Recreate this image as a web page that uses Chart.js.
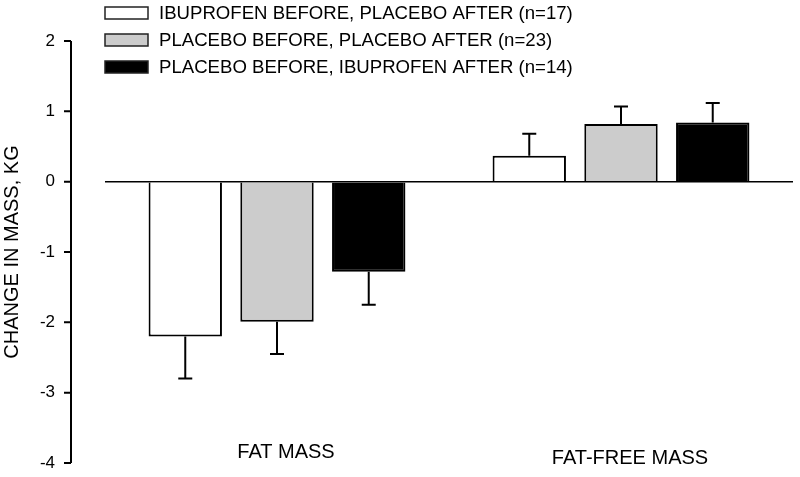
<!DOCTYPE html>
<html lang="en">
<head>
    <meta charset="UTF-8">
    <title>Change in mass</title>
    <script src="https://cdn.jsdelivr.net/npm/chart.js"></script>
    <style>
        body {
            margin: 0;
            background: #fff;
        }
    </style>
</head>
<body>

    <canvas id="grafico" width="800" height="477"></canvas>

    <script>
        const categorias = ['FAT MASS', 'FAT-FREE MASS'];
        const etiquetas = [
            'IBUPROFEN BEFORE, PLACEBO AFTER (n=17)',
            'PLACEBO BEFORE, PLACEBO AFTER (n=23)',
            'PLACEBO BEFORE, IBUPROFEN AFTER (n=14)'
        ];
        const ibuPlacebo = [-2.20, 0.37];
        const ibuPlaceboErr = [0.60, 0.31];
        const placeboPlacebo = [-1.99, 0.82];
        const placeboPlaceboErr = [0.46, 0.25];
        const placeboIbu = [-1.28, 0.84];
        const placeboIbuErr = [0.47, 0.28];
        const yTicks = [2, 1, 0, -1, -2, -3, -4];

        const fuente = "'Liberation Sans', Arial, sans-serif";
        const errores = [ibuPlaceboErr, placeboPlaceboErr, placeboIbuErr];

        // barras de error (solo hacia fuera del cero)
        const barrasError = {
            id: 'barrasError',
            afterDatasetsDraw(chart) {
                const ctx = chart.ctx;
                const y = chart.scales.y;
                ctx.save();
                ctx.strokeStyle = '#000';
                ctx.lineWidth = 2;
                chart.data.datasets.forEach((ds, i) => {
                    chart.getDatasetMeta(i).data.forEach((bar, j) => {
                        const v = ds.data[j];
                        const e = errores[i][j];
                        const fin = y.getPixelForValue(v < 0 ? v - e : v + e);
                        ctx.beginPath();
                        ctx.moveTo(bar.x, bar.y);
                        ctx.lineTo(bar.x, fin);
                        ctx.moveTo(bar.x - 7, fin);
                        ctx.lineTo(bar.x + 7, fin);
                        ctx.stroke();
                    });
                });
                ctx.restore();
            }
        };

        // eje izquierdo separado del area, leyenda y etiquetas de categoria
        const extras = {
            id: 'extras',
            afterDraw(chart) {
                const ctx = chart.ctx;
                const y = chart.scales.y;
                const x = chart.scales.x;
                const ejeX = 71;
                ctx.save();
                ctx.strokeStyle = '#000';
                ctx.lineWidth = 2;
                ctx.beginPath();
                ctx.moveTo(ejeX, y.getPixelForValue(yTicks[0]));
                ctx.lineTo(ejeX, y.getPixelForValue(yTicks[yTicks.length - 1]));
                yTicks.forEach(t => {
                    const py = y.getPixelForValue(t);
                    ctx.moveTo(ejeX - 7, py);
                    ctx.lineTo(ejeX, py);
                });
                ctx.stroke();

                ctx.fillStyle = '#000';
                ctx.font = '20px ' + fuente;
                ctx.textAlign = 'center';
                ctx.textBaseline = 'middle';
                const despl = [-6, 0];
                categorias.forEach((c, i) => {
                    ctx.fillText(c, x.getPixelForValue(i) + 9, 458 + despl[i]);
                });

                ctx.font = '18.6px ' + fuente;
                ctx.textAlign = 'left';
                chart.data.datasets.forEach((ds, i) => {
                    const cy = 13 + i * 27;
                    ctx.fillStyle = ds.backgroundColor;
                    ctx.fillRect(105, cy - 6, 43, 12);
                    ctx.lineWidth = 1.5;
                    ctx.strokeStyle = '#222';
                    ctx.strokeRect(105, cy - 6, 43, 12);
                    ctx.fillStyle = '#000';
                    ctx.fillText(ds.label, 159, cy + 1);
                });
                ctx.restore();
            }
        };

        const ctxG = document.getElementById('grafico').getContext('2d');
        new Chart(ctxG, {
            type: 'bar',
            data: {
                labels: categorias,
                datasets: [
                    { label: etiquetas[0], data: ibuPlacebo, backgroundColor: '#ffffff', borderColor: '#000', borderWidth: 2 },
                    { label: etiquetas[1], data: placeboPlacebo, backgroundColor: '#cccccc', borderColor: '#000', borderWidth: 2 },
                    { label: etiquetas[2], data: placeboIbu, backgroundColor: '#000000', borderColor: '#000', borderWidth: 2 }
                ]
            },
            options: {
                responsive: false,
                animation: false,
                barPercentage: 0.8,
                categoryPercentage: 0.8,
                layout: { padding: { top: 41, right: 7, bottom: 14, left: 0 } },
                plugins: {
                    legend: { display: false },
                    tooltip: { enabled: false }
                },
                scales: {
                    x: {
                        display: false
                    },
                    y: {
                        min: -4,
                        max: 2,
                        afterFit(scale) {
                            scale.width = 105;
                            scale.paddingTop = 10;
                            scale.paddingBottom = 10;
                        },
                        afterBuildTicks(scale) { scale.ticks = yTicks.map(v => ({ value: v })); },
                        border: { display: false },
                        grid: {
                            drawTicks: false,
                            color: c => c.tick && c.tick.value === 0 ? '#000' : 'rgba(0,0,0,0)',
                            lineWidth: 1.5
                        },
                        ticks: {
                            padding: 50,
                            color: '#000',
                            font: { family: fuente, size: 17 }
                        },
                        title: {
                            display: true,
                            text: 'CHANGE IN MASS, KG',
                            color: '#000',
                            font: { family: fuente, size: 20 },
                            padding: { top: 0, bottom: 0 }
                        }
                    }
                }
            },
            plugins: [barrasError, extras]
        });
    </script>

</body>
</html>
